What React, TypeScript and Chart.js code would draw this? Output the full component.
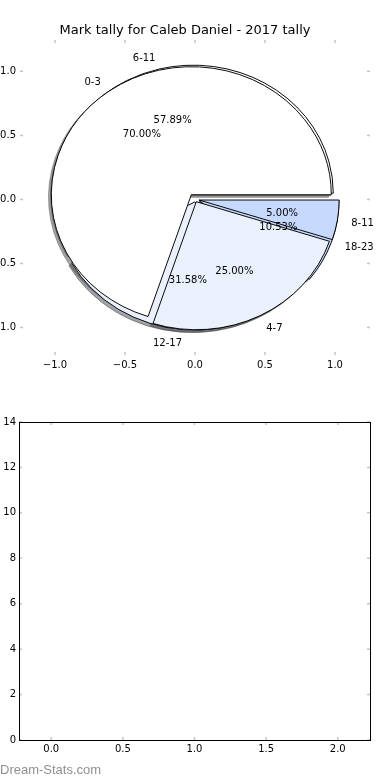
import React, { useEffect, useRef } from 'react';
import { Chart, registerables } from 'chart.js';

Chart.register(...registerables);

// ---- data ----
const chartTitle = 'Mark tally for Caleb Daniel - 2017 tally';
const pieALabels = ['0-3', '4-7', '8-11'];
const pieAValues = [14, 5, 1];
const pieAExplode = [0.045, 0.02, 0.03];
const pieBLabels = ['6-11', '12-17', '18-23'];
const pieBValues = [11, 6, 2];
const pieBExplode = [0.05, 0.02, 0.03];
const sliceColors = ['#ffffff', '#eaf0fc', '#c6d9fc'];
const pieXTicks = [-1, -0.5, 0, 0.5, 1];
const pieYTicks = [-1, -0.5, 0, 0.5, 1];
const barXTicks = [0, 0.5, 1, 1.5, 2];
const barYTicks = [0, 2, 4, 6, 8, 10, 12, 14];
const watermark = 'Dream-Stats.com';

const FONT = "'DejaVu Sans', sans-serif";

const fmt1 = (v: number) => (v < 0 ? '\u2212' : '') + Math.abs(v).toFixed(1);

function shade(hex: string) {
  const n = parseInt(hex.slice(1), 16);
  const r = Math.round(((n >> 16) & 255) * 0.3);
  const g = Math.round(((n >> 8) & 255) * 0.3);
  const b = Math.round((n & 255) * 0.3);
  return `rgba(${r},${g},${b},0.5)`;
}

function innerTicks(frame: boolean) {
  return {
    id: 'innerTicks',
    afterDraw(chart: any) {
      const { ctx, chartArea: a, scales } = chart;
      const L = 3;
      ctx.save();
      ctx.strokeStyle = '#c4c4c4';
      ctx.lineWidth = 1.5;
      ctx.beginPath();
      scales.x.ticks.forEach((t: any) => {
        const p = scales.x.getPixelForValue(t.value);
        ctx.moveTo(p, a.top);
        ctx.lineTo(p, a.top + L);
        ctx.moveTo(p, a.bottom);
        ctx.lineTo(p, a.bottom - L);
      });
      scales.y.ticks.forEach((t: any) => {
        const p = scales.y.getPixelForValue(t.value);
        ctx.moveTo(a.left, p);
        ctx.lineTo(a.left + L, p);
        ctx.moveTo(a.right, p);
        ctx.lineTo(a.right - L, p);
      });
      ctx.stroke();
      if (frame) {
        ctx.strokeStyle = '#000';
        ctx.lineWidth = 1;
        ctx.strokeRect(
          Math.round(a.left) + 0.5,
          Math.round(a.top) + 0.5,
          Math.round(a.right) - Math.round(a.left),
          Math.round(a.bottom) - Math.round(a.top)
        );
      }
      ctx.restore();
    },
  };
}

export default function App() {
  const topRef = useRef<HTMLCanvasElement>(null);
  const pieRef = useRef<HTMLCanvasElement>(null);
  const botRef = useRef<HTMLCanvasElement>(null);

  useEffect(() => {
    Chart.defaults.font.family = FONT;
    Chart.defaults.font.size = 10;
    Chart.defaults.color = '#000';

    const noGrid = { display: false, drawTicks: false, drawOnChartArea: false };

    const axes = new Chart(topRef.current!, {
      type: 'scatter',
      data: { datasets: [] },
      options: {
        responsive: false,
        animation: false,
        devicePixelRatio: 1,
        events: [],
        layout: { padding: { left: 0, right: 20, top: 0, bottom: 0 } },
        plugins: {
          legend: { display: false },
          tooltip: { enabled: false },
          title: {
            display: true,
            text: chartTitle,
            color: '#000',
            font: { size: 13, weight: 'normal', family: FONT },
            padding: { top: 23, bottom: 1.4 },
          },
        },
        scales: {
          x: {
            type: 'linear',
            min: -1.25,
            max: 1.25,
            grid: noGrid,
            border: { display: false },
            afterBuildTicks: (s: any) => {
              s.ticks = pieXTicks.map((v) => ({ value: v }));
            },
            afterFit: (s: any) => {
              s.height = 35;
            },
            ticks: { autoSkip: false, maxRotation: 0, padding: 4, callback: (v: any) => fmt1(Number(v)) },
          },
          y: {
            type: 'linear',
            min: -1.215,
            max: 1.245,
            grid: noGrid,
            border: { display: false },
            afterBuildTicks: (s: any) => {
              s.ticks = pieYTicks.map((v) => ({ value: v }));
            },
            afterFit: (s: any) => {
              s.width = 20;
            },
            ticks: { autoSkip: false, padding: 4, callback: (v: any) => fmt1(Number(v)) },
          },
        },
      } as any,
      plugins: [innerTicks(false)],
    });

    const xs: any = axes.scales.x;
    const ys: any = axes.scales.y;
    const geom = {
      cx: xs.getPixelForValue(0),
      cy: ys.getPixelForValue(0),
      rx: xs.getPixelForValue(1) - xs.getPixelForValue(0),
      ry: ys.getPixelForValue(0) - ys.getPixelForValue(1),
    };

    const rev = <T,>(a: T[]) => [...a].reverse();
    const mkSet = (names: string[], values: number[], explode: number[], shadow: boolean, order: number) => ({
      data: rev(values),
      names: rev(names),
      explode: rev(explode),
      shadow,
      order,
      backgroundColor: rev(shadow ? sliceColors.map(shade) : sliceColors),
      borderColor: rev(shadow ? sliceColors.map(shade) : sliceColors.map(() => '#000000')),
      borderWidth: 1,
    });

    const piePlugin = {
      id: 'mplPies',
      beforeDatasetDraw(chart: any, args: any) {
        const ds: any = chart.data.datasets[args.index];
        const ctx = chart.ctx;
        const k = geom.ry / geom.rx;
        const sx = ds.shadow ? -0.02 * geom.rx : 0;
        const sy = ds.shadow ? 0.02 * geom.ry : 0;
        ctx.save();
        ctx.translate(geom.cx + sx, geom.cy + sy);
        ctx.scale(1, k);
        args.meta.data.forEach((arc: any, j: number) => {
          const mid = (arc.startAngle + arc.endAngle) / 2;
          const e = ds.explode[j] * geom.rx;
          arc.innerRadius = 0;
          arc.outerRadius = geom.rx;
          ctx.save();
          ctx.translate(Math.cos(mid) * e - arc.x, Math.sin(mid) * e - arc.y);
          arc.draw(ctx);
          ctx.restore();
        });
        ctx.restore();
        return false;
      },
      afterDatasetsDraw(chart: any) {
        const ctx = chart.ctx;
        const dy = 1.5;
        ctx.save();
        ctx.font = `10px ${FONT}`;
        ctx.fillStyle = '#000';
        ctx.textBaseline = 'middle';
        chart.data.datasets.forEach((ds: any, i: number) => {
          if (ds.shadow) return;
          const meta = chart.getDatasetMeta(i);
          const total = ds.data.reduce((s: number, v: number) => s + v, 0);
          meta.data.forEach((arc: any, j: number) => {
            const mid = (arc.startAngle + arc.endAngle) / 2;
            const e = ds.explode[j];
            const c = Math.cos(mid);
            const s = Math.sin(mid);
            const lx = geom.cx + (e + 1.1) * geom.rx * c;
            const ly = geom.cy + (e + 1.1) * geom.ry * s + dy;
            ctx.textAlign = c > 0 ? 'left' : 'right';
            ctx.fillText(ds.names[j], lx, ly);
            const px = geom.cx + (e + 0.6) * geom.rx * c;
            const py = geom.cy + (e + 0.6) * geom.ry * s + dy;
            ctx.textAlign = 'center';
            ctx.fillText(((ds.data[j] / total) * 100).toFixed(2) + '%', px, py);
          });
        });
        ctx.restore();
      },
    };

    const pie = new Chart(pieRef.current!, {
      type: 'pie',
      data: {
        datasets: [
          mkSet(pieALabels, pieAValues, pieAExplode, false, 0),
          mkSet(pieBLabels, pieBValues, pieBExplode, false, 1),
          mkSet(pieALabels, pieAValues, pieAExplode, true, 2),
          mkSet(pieBLabels, pieBValues, pieBExplode, true, 3),
        ] as any,
      },
      options: {
        responsive: false,
        animation: false,
        devicePixelRatio: 1,
        events: [],
        rotation: 90,
        plugins: { legend: { display: false }, tooltip: { enabled: false } },
      } as any,
      plugins: [piePlugin],
    });

    const bottom = new Chart(botRef.current!, {
      type: 'scatter',
      data: { datasets: [{ data: [] }] },
      options: {
        responsive: false,
        animation: false,
        devicePixelRatio: 1,
        events: [],
        layout: { padding: { left: 0, right: 20, top: 32, bottom: 0 } },
        plugins: { legend: { display: false }, tooltip: { enabled: false } },
        scales: {
          x: {
            type: 'linear',
            min: -0.225,
            max: 2.225,
            grid: noGrid,
            border: { display: false },
            afterBuildTicks: (s: any) => {
              s.ticks = barXTicks.map((v) => ({ value: v }));
            },
            afterFit: (s: any) => {
              s.height = 40;
            },
            ticks: { autoSkip: false, maxRotation: 0, padding: 3, callback: (v: any) => fmt1(Number(v)) },
          },
          y: {
            type: 'linear',
            min: 0,
            max: 14,
            grid: noGrid,
            border: { display: false },
            afterBuildTicks: (s: any) => {
              s.ticks = barYTicks.map((v) => ({ value: v }));
            },
            afterFit: (s: any) => {
              s.width = 19;
            },
            ticks: { autoSkip: false, padding: 3, callback: (v: any) => String(v) },
          },
        },
      } as any,
      plugins: [innerTicks(true)],
    });

    return () => {
      axes.destroy();
      pie.destroy();
      bottom.destroy();
    };
  }, []);

  return (
    <div
      style={{
        position: 'absolute',
        left: 0,
        top: 0,
        width: 390,
        height: 780,
        overflow: 'hidden',
        background: '#fff',
      }}
    >
      <canvas ref={topRef} width={390} height={390} style={{ position: 'absolute', left: 0, top: 0, width: 390, height: 390 }} />
      <canvas ref={pieRef} width={390} height={390} style={{ position: 'absolute', left: 0, top: 0, width: 390, height: 390 }} />
      <canvas ref={botRef} width={390} height={390} style={{ position: 'absolute', left: 0, top: 390, width: 390, height: 390 }} />
      <div
        style={{
          position: 'absolute',
          left: 0,
          top: 762,
          fontFamily: "'Liberation Sans', Arial, sans-serif",
          fontSize: 13,
          lineHeight: '16px',
          color: '#8f8f8f',
          whiteSpace: 'nowrap',
        }}
      >
        {watermark}
      </div>
    </div>
  );
}
